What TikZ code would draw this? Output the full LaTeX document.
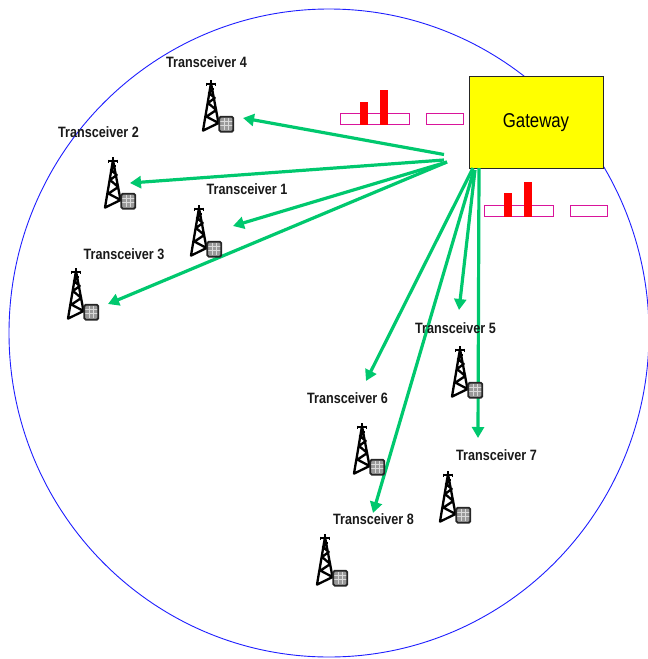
\documentclass[tikz,border=0pt]{standalone}
\usepackage{fontspec}
\setmainfont{Liberation Sans}
\newfontfamily\narrowbold[FakeStretch=0.84]{Liberation Sans}
\newfontfamily\narrowreg[FakeStretch=0.84]{Liberation Sans}
\usetikzlibrary{arrows.meta}
\definecolor{linkgreen}{HTML}{00C86E}
\definecolor{slotpink}{HTML}{D9149B}
\definecolor{gwyellow}{RGB}{255,255,0}
\definecolor{ringblue}{RGB}{30,30,255}
\tikzset{
  x=1pt,y=-1pt,
  link/.style={draw=linkgreen,line width=3.2pt,-{Triangle[length=11pt,width=12pt]}},
  slot/.style={draw=slotpink,line width=1pt},
  bar/.style={fill=red,draw=none},
  txlabel/.style={font=\narrowbold\bfseries\fontsize{15}{17}\selectfont,inner sep=0pt,text=black!90},
  tower/.pic={
    \draw[line width=2.3pt,line join=round,line cap=round]
      (0,3)--(-8,50.6) (0,3)--(7.6,43.5)
      (-8,50.6)--(7.6,43)--(-4.6,36.6)--(5.3,30)--(-3,23)--(3.7,18)--(-2,13)--(2,9);
    \draw[line width=1.3pt] (0,0)--(0,9) (-4.5,4)--(4.5,4) (-4.5,2.5)--(-4.5,6) (4.5,2.5)--(4.5,6);
    \fill[black!40] (8.5,37)rectangle(22,51);
    \foreach \gx in {13,17.5}{\draw[white!85!black,line width=.6pt] (\gx,38)--(\gx,50);}
    \foreach \gy in {41,45.5}{\draw[white!85!black,line width=.6pt] (9,\gy)--(21.5,\gy);}
    \draw[black!85,line width=1.8pt,rounded corners=1.5pt] (8.3,36.7) rectangle (22.3,51.7);
  }
}
\begin{document}
\begin{tikzpicture}
\useasboundingbox (0,0) rectangle (648,659);
\draw[ringblue,line width=.9pt] (329,333) ellipse [x radius=320,y radius=324];

\node[slot,minimum width=69pt,minimum height=11pt,inner sep=0pt,anchor=north west] (s1) at (340,113) {};
\node[slot,minimum width=37pt,minimum height=11pt,inner sep=0pt,anchor=north west] (s2) at (426,113) {};
\node[slot,minimum width=69pt,minimum height=11pt,inner sep=0pt,anchor=north west] (s3) at (484,205) {};
\node[slot,minimum width=37pt,minimum height=11pt,inner sep=0pt,anchor=north west] (s4) at (570,205) {};
\fill[bar] (360,102) rectangle (368,124.5);
\fill[bar] (380,90) rectangle (388,124.5);
\fill[bar] (504,193) rectangle (512,216.5);
\fill[bar] (524,182) rectangle (532,216.5);

\node[draw=black!85,fill=gwyellow,line width=1pt,minimum width=134pt,minimum height=92pt,inner sep=0pt,anchor=north west,font=\narrowreg\fontsize{20}{22}\selectfont] (gw) at (468.5,76) {Gateway};

\coordinate (a4s) at (444,154.5); \coordinate (a4e) at (243,118);
\coordinate (a2s) at (444,160);   \coordinate (a2e) at (130,183);
\coordinate (a1s) at (447,162);   \coordinate (a1e) at (233,226);
\coordinate (a3s) at (447,162);   \coordinate (a3e) at (108,304);
\coordinate (a6s) at (473,168);   \coordinate (a6e) at (366,381);
\coordinate (a5s) at (475,170);   \coordinate (a5e) at (459,310);
\coordinate (a7s) at (479,168);   \coordinate (a7e) at (478,438);
\coordinate (a8s) at (474,170);   \coordinate (a8e) at (373,513);
\foreach \n in {1,...,8}{\draw[link] (a\n s) -- (a\n e);}

\pic at (211,80) {tower};
\pic at (113,157) {tower};
\pic at (199,205) {tower};
\pic at (76,268) {tower};
\pic at (460,346) {tower};
\pic at (362,423) {tower};
\pic at (448,471) {tower};
\pic at (325,534) {tower};

\node[txlabel] (t4) at (206.5,62) {Transceiver 4};
\node[txlabel] (t2) at (98.5,132.5) {Transceiver 2};
\node[txlabel] (t1) at (247,189) {Transceiver 1};
\node[txlabel] (t3) at (124,254) {Transceiver 3};
\node[txlabel] (t5) at (455.5,328) {Transceiver 5};
\node[txlabel] (t6) at (347.5,398.5) {Transceiver 6};
\node[txlabel] (t7) at (496.5,455) {Transceiver 7};
\node[txlabel] (t8) at (373.5,519) {Transceiver 8};
\end{tikzpicture}
\end{document}
